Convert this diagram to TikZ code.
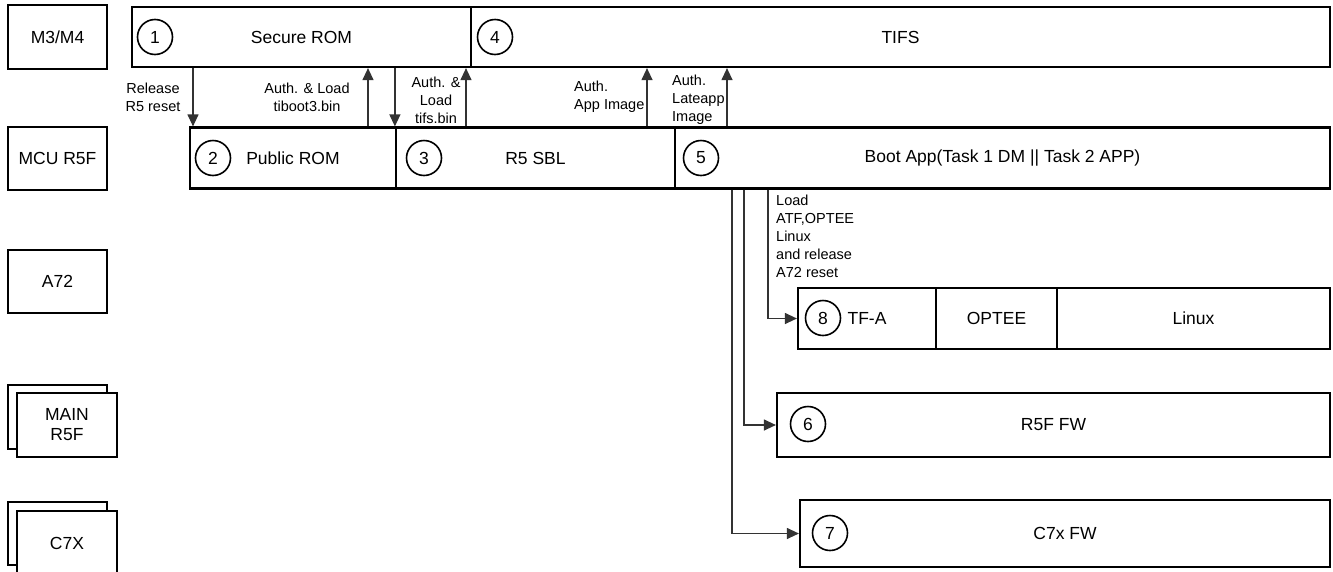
\documentclass[tikz,border=0pt]{standalone}
\usepackage{fontspec}
\setmainfont{Liberation Sans}
\usetikzlibrary{arrows.meta}

\begin{document}
\begin{tikzpicture}[x=1pt,y=-1pt,
    box/.style={draw,line width=2.2pt,inner sep=0pt,align=center,font=\fontsize{17.5}{20}\selectfont},
    num/.style={draw,circle,line width=1.6pt,minimum size=35pt,inner sep=0pt,font=\fontsize{17.5}{20}\selectfont},
    lbl/.style={inner sep=0pt,align=center,font=\fontsize{14.5}{18}\selectfont},
    arr/.style={line width=1.2pt,draw=black!80,-{Triangle[width=11pt,length=12pt]}}]
      \useasboundingbox (0,0) rectangle (1333,571);

      % cores
      \node[box,minimum width=99pt,minimum height=64pt] (m3) at (57.5,37) {M3/M4};
      \node[box,minimum width=99pt,minimum height=63pt] (mcu) at (57.5,158.5) {MCU R5F};
      \node[box,minimum width=99pt,minimum height=63pt] (a72) at (57.5,281.5) {A72};
      \node[box,minimum width=99pt,minimum height=64pt] (mainb) at (57.5,417) {};
      \node[box,fill=white,minimum width=100pt,minimum height=64pt] (main) at (67,425) {MAIN\\R5F};
      \node[box,minimum width=99pt,minimum height=63pt] (c7b) at (57.5,533.5) {};
      \node[box,fill=white,minimum width=100pt,minimum height=65pt] (c7) at (67,543.5) {C7X};

      % boot stages
      \node[box,minimum width=339pt,minimum height=60pt] (srom) at (301.5,37) {Secure ROM};
      \node[box,minimum width=859pt,minimum height=60pt] (tifs) at (900.5,37) {TIFS};
      \node[box,minimum width=206pt,minimum height=61pt] (prom) at (293,158) {Public ROM};
      \node[box,minimum width=279pt,minimum height=61pt] (sbl) at (535.5,158) {R5 SBL};
      \node[box,minimum width=655pt,minimum height=61pt] (boot) at (1002.5,158) {Boot App(Task 1 DM || Task 2 APP)};
      \node[box,minimum width=138pt,minimum height=61pt] (tfa) at (867,318.5) {TF-A};
      \node[box,minimum width=121pt,minimum height=61pt] (optee) at (996.5,318.5) {OPTEE};
      \node[box,minimum width=273pt,minimum height=61pt] (linux) at (1193.5,318.5) {Linux};
      \node[box,minimum width=553pt,minimum height=64pt] (r5fw) at (1053.5,425) {R5F FW};
      \node[box,minimum width=530pt,minimum height=67pt] (c7fw) at (1065,533.5) {C7x FW};

      \node[num] (n1) at (155,37) {1};
      \node[num] (n2) at (213,158) {2};
      \node[num] (n3) at (424,158) {3};
      \node[num] (n4) at (495,37) {4};
      \node[num] (n5) at (701,158) {5};
      \node[num] (n6) at (808,424) {6};
      \node[num] (n7) at (830,533) {7};
      \node[num] (n8) at (823,318) {8};

      % labels
      \node[lbl] (lrel) at (153,97) {Release\\R5 reset};
      \node[lbl] (ltib) at (307,97) {Auth. \& Load\\tiboot3.bin};
      \node[lbl] (ltifs) at (436,100) {Auth. \&\\Load\\tifs.bin};
      \node[lbl,anchor=west,align=left] (lapp) at (574,97) {Auth.\\App Image};
      \node[lbl,anchor=west,align=left] (llate) at (672,100) {Auth.\\Lateapp\\Image};
      \node[lbl,anchor=west,align=left] (lload) at (776,236) {Load\\ATF,OPTEE\\Linux\\and release\\A72 reset};

      % arrows
      \coordinate (x1) at (193,0);
      \coordinate (x2) at (368,0);
      \coordinate (x4) at (466,0);
      \coordinate (x5) at (647,0);
      \coordinate (x6) at (727,0);
      \coordinate (x7) at (732,0);
      \coordinate (x8) at (744,0);
      \coordinate (x9) at (768,0);
      \draw[arr] (x1 |- srom.south) -- (x1 |- prom.north);
      \draw[arr] (x2 |- prom.north) -- (x2 |- srom.south);
      \draw[arr] (sbl.north west |- srom.south) -- (sbl.north west);
      \draw[arr] (x4 |- sbl.north) -- (x4 |- srom.south);
      \draw[arr] (x5 |- sbl.north) -- (x5 |- tifs.south);
      \draw[arr] (x6 |- boot.north) -- (x6 |- tifs.south);
      \draw[arr] (x7 |- boot.south) |- (c7fw.west);
      \draw[arr] (x8 |- boot.south) |- (r5fw.west);
      \draw[arr] (x9 |- boot.south) |- (tfa.west);

    \end{tikzpicture}
\end{document}
